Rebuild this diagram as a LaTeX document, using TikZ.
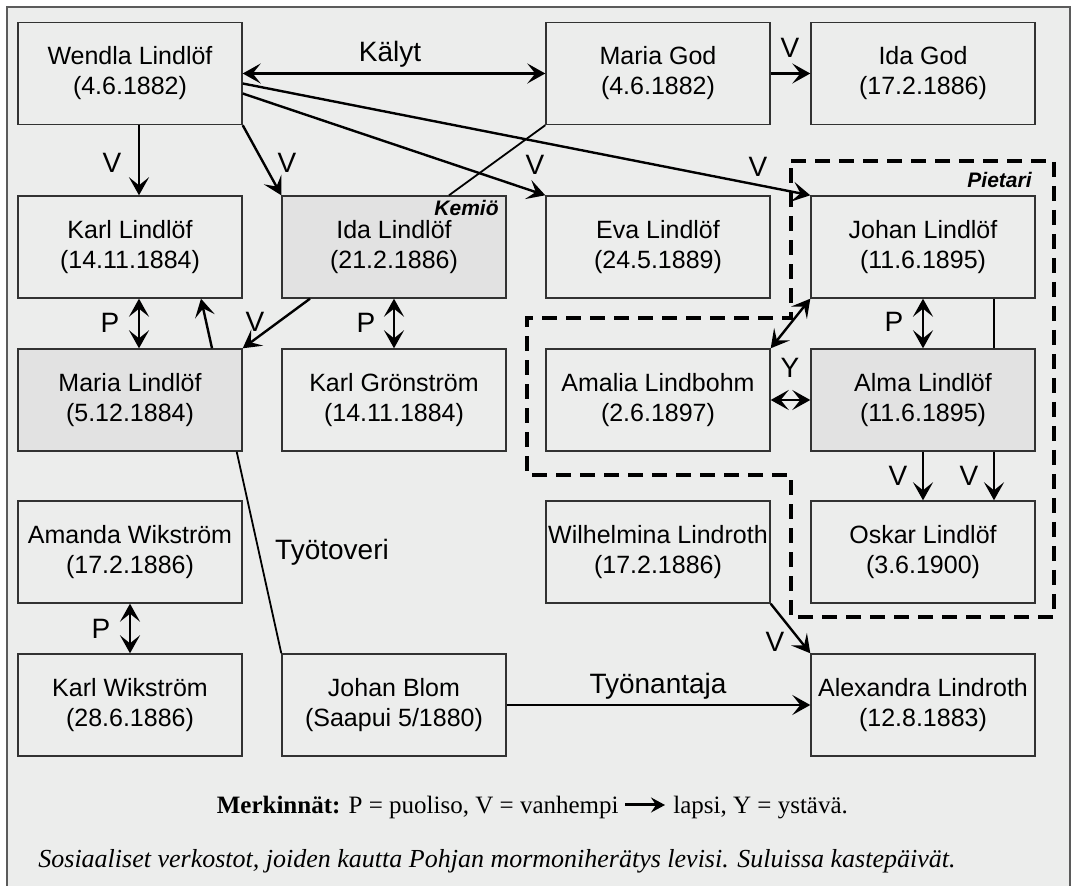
\documentclass[tikz,border=0pt]{standalone}
\usepackage{fontspec}
\setmainfont{Liberation Sans}
\newfontfamily\notefont{Liberation Serif}
\usetikzlibrary{arrows.meta}
\definecolor{paper}{RGB}{236,237,236}
\definecolor{shade}{RGB}{226,226,226}
\definecolor{rim}{RGB}{50,50,50}
\begin{document}
\begin{tikzpicture}
  [x=0.5pt,y=-0.5pt,
   person/.style={draw=rim,line width=0.7pt,fill=paper,minimum width=112pt,minimum height=51pt,
     inner sep=0pt,align=center,font=\fontsize{12.5}{15}\selectfont},
   marked/.style={person,fill=shade},
   rel/.style={inner sep=0pt,font=\fontsize{14}{16}\selectfont},
   place/.style={inner sep=0pt,anchor=east,font=\fontsize{10.5}{12}\selectfont\bfseries\itshape},
   note/.style={inner sep=0pt,text height=8pt,text depth=0pt,font=\notefont\fontsize{12.5}{15}\selectfont},
   tie/.style={line width=1.2pt,-{Stealth[length=9pt,width=10pt,inset=4pt]}},
   twotie/.style={line width=1.2pt,{Stealth[length=9pt,width=10pt,inset=4pt]}-{Stealth[length=9pt,width=10pt,inset=4pt]}},
   plain/.style={line width=0.9pt}]
  \useasboundingbox (0,0) rectangle (1071,886);
  \fill[paper] (7,7) rectangle (1070,890);
  \draw[line width=0.7pt,rim!80] (7,890) -- (7,7) -- (1070,7) -- (1070,890);

  \draw[line width=2pt,dash pattern=on 7.5pt off 4.5pt]
    (791,161) -- (1054,161) -- (1054,617) -- (791,617) -- (791,475)
    -- (527,475) -- (527,318) -- (791,318) -- cycle;

  \node[person] (wendla) at (130,73.5) {Wendla Lindlöf\\(4.6.1882)};
  \node[person] (mariagod) at (658,73.5) {Maria God\\(4.6.1882)};
  \node[person] (idagod) at (923,73.5) {Ida God\\(17.2.1886)};
  \node[person] (karl) at (130,247) {Karl Lindlöf\\(14.11.1884)};
  \node[marked] (ida) at (394,247) {Ida Lindlöf\\(21.2.1886)};
  \node[person] (eva) at (658,247) {Eva Lindlöf\\(24.5.1889)};
  \node[person] (johan) at (923,247) {Johan Lindlöf\\(11.6.1895)};
  \node[marked] (maria) at (130,400) {Maria Lindlöf\\(5.12.1884)};
  \node[person] (gronstrom) at (394,400) {Karl Grönström\\(14.11.1884)};
  \node[person] (amalia) at (658,400) {Amalia Lindbohm\\(2.6.1897)};
  \node[marked] (alma) at (923,400) {Alma Lindlöf\\(11.6.1895)};
  \node[person] (amanda) at (130,552) {Amanda Wikström\\(17.2.1886)};
  \node[person] (wilhelmina) at (658,552) {Wilhelmina Lindroth\\(17.2.1886)};
  \node[person] (oskar) at (923,552) {Oskar Lindlöf\\(3.6.1900)};
  \node[person] (wikstrom) at (130,705) {Karl Wikström\\(28.6.1886)};
  \node[person] (blom) at (394,705) {Johan Blom\\(Saapui 5/1880)};
  \node[person] (alexandra) at (923,705) {Alexandra Lindroth\\(12.8.1883)};

  \node[place] (kemio) at (499,208) {Kemiö};
  \node[place] (pietari) at (1032,180) {Pietari};

  \foreach \from/\to in {mariagod/idagod,blom/alexandra}
    \draw[tie] (\from.east) -- (\to.west);
  \foreach \from/\to in {wendla/ida,wilhelmina/alexandra}
    \draw[tie] (\from.south east) -- (\to.north west);
  \foreach \from/\to in {ida/gronstrom,johan/alma,amanda/wikstrom}
    \draw[twotie] (\from.south) -- (\to.north);

  \draw[twotie] (wendla.east) -- (mariagod.west);
  \draw[twotie] (amalia.east) -- (alma.west);
  \draw[twotie] (johan.south west) -- (amalia.north east);
  \draw[tie] ([xshift=4.5pt]wendla.south) -- ([xshift=4.5pt]karl.north);
  \draw[twotie] ([xshift=4.5pt]karl.south) -- ([xshift=4.5pt]maria.north);
  \draw[tie] ([yshift=-10pt]wendla.east) -- (eva.north west);
  \draw[tie] ([yshift=-5pt]wendla.east) -- (johan.north west);
  \draw[tie] ([xshift=41pt]maria.north) -- ([xshift=35.5pt]karl.south);
  \draw[tie] ([xshift=-42pt]ida.south) -- (maria.north east);
  \draw[tie] (alma.south) -- (oskar.north);
  \draw[tie] ([xshift=35.5pt]alma.south) -- ([xshift=35.5pt]oskar.north);
  \draw[plain] ([xshift=27.5pt]ida.north) -- (mariagod.south west);
  \draw[plain] ([xshift=35.5pt]johan.south) -- ([xshift=35.5pt]alma.north);
  \draw[plain] ([xshift=-3pt]maria.south east) -- (blom.north west);

  \node[rel] (kalyt) at (390,54) {Kälyt};
  \node[rel] (vgod) at (790,48) {V};
  \node[rel] (vkarl) at (112,163) {V};
  \node[rel] (vida) at (287,163) {V};
  \node[rel] (veva) at (535,165) {V};
  \node[rel] (vjohan) at (758,167) {V};
  \node[rel] (pkarl) at (110,323) {P};
  \node[rel] (vmaria) at (255,322) {V};
  \node[rel] (pida) at (366,323) {P};
  \node[rel] (pjohan) at (894,322) {P};
  \node[rel] (yamalia) at (790,368) {Y};
  \node[rel] (valma) at (898,476) {V};
  \node[rel] (voskar) at (969,476) {V};
  \node[rel] (pamanda) at (101,629) {P};
  \node[rel] (vwilhelmina) at (775,642) {V};
  \node[rel] (tyotoveri) at (332,552) {Työtoveri};
  \node[rel] (tyonantaja) at (658,686) {Työnantaja};

  \node[note,anchor=base east] (keyleft) at (619,813) {\textbf{Merkinnät:} P = puoliso, V = vanhempi};
  \node[note,anchor=base west] (keyright) at (673,813) {lapsi, Y = ystävä.};
  \draw[line width=1.5pt,-{Stealth[length=7pt,width=7.5pt,inset=2.5pt]},shorten <=3pt,shorten >=4pt]
    (keyleft.east) -- (keyright.west);
  \node[note,anchor=base west,font=\notefont\fontsize{13}{15}\selectfont\itshape] (caption) at (38,868)
    {Sosiaaliset verkostot, joiden kautta Pohjan mormoniherätys levisi. Suluissa kastepäivät.};
\end{tikzpicture}
\end{document}
